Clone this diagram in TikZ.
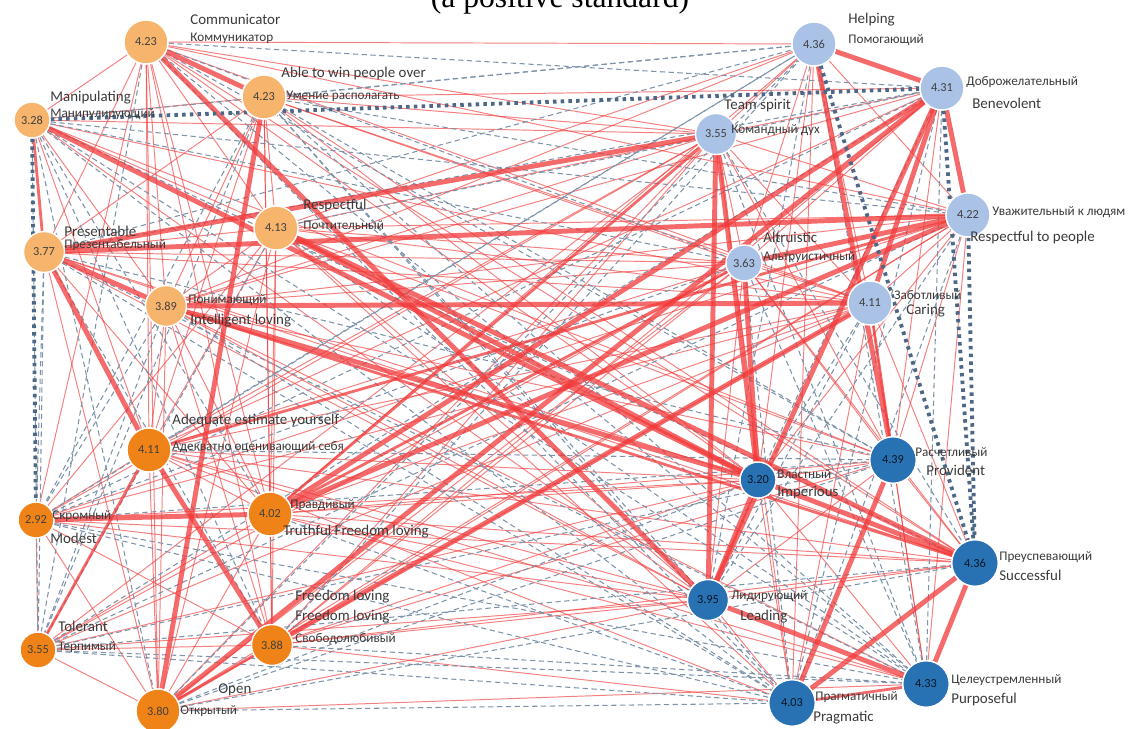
\documentclass[tikz,border=0pt]{standalone}
\usepackage{fontspec}
\setmainfont{Carlito}
\newfontfamily\titlefont{Liberation Serif}
\usetikzlibrary{backgrounds}
\definecolor{warmpale}{HTML}{F7B46C}
\definecolor{warmdeep}{HTML}{EF8317}
\definecolor{coolpale}{HTML}{A9C2E6}
\definecolor{cooldeep}{HTML}{2872B4}
\definecolor{linkred}{HTML}{F23A3A}
\definecolor{linkgrey}{HTML}{7C93AA}
\definecolor{linkslate}{HTML}{4D6886}
\definecolor{inktext}{HTML}{3A3A3A}
\tikzset{
  % ---- trait circles --------------------------------------------------
  trait/.style={circle, draw=white, line width=0.8pt, inner sep=0pt,
    font=\fontsize{7}{8}\selectfont, text=black!75},
  tsmall/.style={trait, minimum size=7.2mm},
  tmid/.style={trait, minimum size=8.2mm},
  tbig/.style={trait, minimum size=8.8mm},
  thuge/.style={trait, minimum size=9.3mm},
  wpale/.style={fill=warmpale},
  wdeep/.style={fill=warmdeep},
  cpale/.style={fill=coolpale},
  cdeep/.style={fill=cooldeep, text=black!80!cooldeep},
  % ---- labels ---------------------------------------------------------
  tlab/.style={anchor=west, inner sep=0pt, text=inktext,
    font=\fontsize{8.5}{9}\selectfont},
  tlabru/.style={tlab, font=\fontsize{7.5}{8}\selectfont},
  % ---- links ----------------------------------------------------------
  linkthin/.style={draw=linkred, line width=0.55pt, draw opacity=0.65},
  linkmid/.style={draw=linkred, line width=1.6pt, draw opacity=0.75},
  linkthick/.style={draw=linkred, line width=2.8pt, draw opacity=0.75},
  linkweak/.style={draw=linkgrey, line width=0.6pt, dash pattern=on 3pt off 2pt},
  linkneg/.style={draw=linkslate, line width=2.2pt, dash pattern=on 2pt off 2.4pt},
}
\begin{document}
\begin{tikzpicture}[x=0.2mm, y=-0.2mm]
\useasboundingbox (0,0) rectangle (1140,728);

% ---- title (cut at the top) -----------------------------------------
\node[font=\titlefont\fontsize{18}{20}\selectfont, anchor=base, inner sep=0pt]
  (title) at (560,7) {(a positive standard)};

% ---- warm group: light ---------------------------------------------
\node[tbig, wpale]   (comm)  at (146,42)  {4.23};
\node[tbig, wpale]   (win)   at (264,97)  {4.23};
\node[tsmall, wpale] (manip) at (32,120)  {3.28};
\node[tbig, wpale]   (resp)  at (276,228) {4.13};
\node[tmid, wpale]   (pres)  at (44,252)  {3.77};
\node[tmid, wpale]   (intel) at (166,306) {3.89};

% ---- warm group: deep -----------------------------------------------
\node[tbig, wdeep]   (adeq)   at (149,450) {4.11};
\node[tsmall, wdeep] (modest) at (36,520)  {2.92};
\node[tbig, wdeep]   (truth)  at (270,514) {4.02};
\node[tsmall, wdeep] (toler)  at (38,650)  {3.55};
\node[tmid, wdeep]   (free)   at (272,645) {3.88};
\node[tbig, wdeep]   (open)   at (158,711) {3.80};

% ---- cool group: light ----------------------------------------------
\node[tbig, cpale]   (help)   at (814,44)  {4.36};
\node[tbig, cpale]   (benev)  at (942,88)  {4.31};
\node[tmid, cpale]   (team)   at (716,134) {3.55};
\node[tbig, cpale]   (respp)  at (968,215) {4.22};
\node[tsmall, cpale] (altru)  at (744,263) {3.63};
\node[tbig, cpale]   (caring) at (870,303) {4.11};

% ---- cool group: deep -----------------------------------------------
\node[thuge, cdeep]  (provid) at (893,460) {4.39};
\node[tsmall, cdeep] (imper)  at (758,480) {3.20};
\node[thuge, cdeep]  (succ)   at (975,563) {4.36};
\node[tmid, cdeep]   (lead)   at (708,600) {3.95};
\node[thuge, cdeep]  (purp)   at (926,684) {4.33};
\node[thuge, cdeep]  (prag)   at (792,703) {4.03};

% ---- labels ---------------------------------------------------------
\node[tlab]   (comm-en)   at (190,19)  {Communicator};
\node[tlabru] (comm-ru)   at (190,38)  {Коммуникатор};
\node[tlab]   (win-en)    at (281,74)  {Able to win people over};
\node[tlabru] (win-ru)    at (286,96)  {Умение располагать};
\node[tlab]   (manip-en)  at (50,98)   {Manipulating};
\node[tlabru] (manip-ru)  at (50,114)  {Манипулирующий};
\node[tlab]   (resp-en)   at (303,206) {Respectful};
\node[tlabru] (resp-ru)   at (303,225) {Почтительный};
\node[tlab]   (pres-en)   at (64,231)  {Presentable};
\node[tlabru] (pres-ru)   at (64,245)  {Презентабельный};
\node[tlabru] (intel-ru)  at (188,300) {Понимающий};
\node[tlab]   (intel-en)  at (190,321) {Intelligent loving};
\node[tlab]   (adeq-en)   at (172,421) {Adequate estimate yourself};
\node[tlabru] (adeq-ru)   at (172,447) {Адекватно оценивающий себя};
\node[tlabru] (modest-ru) at (52,516)  {Скромный};
\node[tlab]   (modest-en) at (50,538)  {Modest};
\node[tlabru] (truth-ru)  at (290,505) {Правдивый};
\node[tlab]   (truth-en)  at (283,532) {Truthful Freedom loving};
\node[tlab]   (toler-en)  at (58,626)  {Tolerant};
\node[tlabru] (toler-ru)  at (58,647)  {Терпимый};
\node[tlab]   (free-en)   at (295,597) {Freedom loving};
\node[tlab]   (free-en2)  at (295,617) {Freedom loving};
\node[tlabru] (free-ru)   at (295,639) {Свободолюбивый};
\node[tlab]   (open-en)   at (218,690) {Open};
\node[tlabru] (open-ru)   at (180,711) {Открытый};
\node[tlab]   (help-en)   at (848,20)  {Helping};
\node[tlabru] (help-ru)   at (848,40)  {Помогающий};
\node[tlabru] (benev-ru)  at (966,82)  {Доброжелательный};
\node[tlab]   (benev-en)  at (972,103) {Benevolent};
\node[tlab]   (team-en)   at (724,106) {Team spirit};
\node[tlabru] (team-ru)   at (731,130) {Командный дух};
\node[tlabru] (respp-ru)  at (992,212) {Уважительный к людям};
\node[tlab]   (respp-en)  at (970,238) {Respectful to people};
\node[tlab]   (altru-en)  at (763,237) {Altruistic};
\node[tlabru] (altru-ru)  at (763,257) {Альтруистичный};
\node[tlabru] (caring-ru) at (894,295) {Заботливый};
\node[tlab]   (caring-en) at (906,311) {Caring};
\node[tlabru] (provid-ru) at (915,452) {Расчетливый};
\node[tlab]   (provid-en) at (926,470) {Provident};
\node[tlabru] (imper-ru)  at (777,474) {Властный};
\node[tlab]   (imper-en)  at (777,493) {Imperious};
\node[tlabru] (succ-ru)   at (999,557) {Преуспевающий};
\node[tlab]   (succ-en)   at (999,575) {Successful};
\node[tlabru] (lead-ru)   at (731,596) {Лидирующий};
\node[tlab]   (lead-en)   at (740,617) {Leading};
\node[tlabru] (purp-ru)   at (951,680) {Целеустремленный};
\node[tlab]   (purp-en)   at (951,700) {Purposeful};
\node[tlabru] (prag-ru)   at (815,697) {Прагматичный};
\node[tlab]   (prag-en)   at (813,718) {Pragmatic};

% ---- links ----------------------------------------------------------
\begin{scope}[on background layer]
\foreach \a/\b in {comm/manip, comm/resp, comm/pres, comm/intel, comm/adeq,
    comm/truth, comm/free, comm/open, comm/modest,
    win/manip, win/resp, win/pres, win/intel, win/adeq, win/truth, win/free,
    manip/intel, manip/adeq, manip/resp,
    resp/pres, resp/intel, resp/adeq, resp/truth, resp/free, resp/open, resp/modest,
    pres/truth, pres/open, intel/adeq, intel/truth, intel/free, intel/open,
    adeq/truth, adeq/modest, adeq/open, modest/toler, modest/open, modest/free,
    truth/free, truth/open, truth/toler, toler/open, toler/free,
    help/team, help/altru, help/caring, help/respp, help/imper, help/prag,
    benev/team, benev/altru, benev/provid,
    team/altru, team/caring, team/respp, team/provid, team/prag,
    respp/caring, respp/provid, respp/purp, respp/imper,
    altru/caring, altru/lead, altru/provid, altru/succ,
    caring/succ, caring/purp, caring/prag,
    provid/imper, provid/succ, provid/purp, provid/lead,
    imper/prag, imper/purp, succ/lead, lead/prag,
    comm/help, comm/team, comm/respp, comm/imper, comm/succ, comm/caring,
    win/benev, win/team, win/altru, win/caring, win/imper, win/succ,
    manip/team, manip/caring, manip/lead, manip/provid,
    resp/help, resp/team, resp/altru, resp/caring, resp/respp, resp/provid,
    resp/lead, resp/prag,
    pres/altru, pres/caring, pres/imper, pres/succ, pres/lead,
    intel/help, intel/benev, intel/team, intel/altru, intel/respp,
    intel/provid, intel/lead, intel/purp,
    adeq/benev, adeq/team, adeq/altru, adeq/caring, adeq/imper, adeq/succ,
    adeq/lead, adeq/prag, adeq/purp,
    modest/team, modest/caring, modest/imper, modest/lead, modest/succ, modest/respp,
    truth/help, truth/provid, truth/imper, truth/succ, truth/lead, truth/purp,
    truth/caring,
    toler/team, toler/caring, toler/altru, toler/lead, toler/imper,
    free/benev, free/team, free/altru, free/respp, free/provid, free/imper,
    free/succ, free/lead, free/prag,
    open/team, open/respp, open/caring, open/altru, open/lead, open/purp}
  \draw[linkthin] (\a) -- (\b);

\foreach \a/\b in {comm/benev, win/help, win/respp, win/provid, win/prag,
    comm/altru, comm/provid, comm/prag, comm/purp,
    manip/toler, manip/succ, manip/respp, manip/help, manip/altru, manip/prag,
    pres/toler, pres/modest, pres/prag, pres/provid, pres/help,
    intel/toler, intel/prag, intel/modest, adeq/provid, adeq/help,
    modest/prag, modest/purp, modest/provid, toler/prag, toler/purp, toler/succ,
    open/prag, open/succ, open/provid, open/imper, free/purp, free/help,
    resp/purp, resp/toler, truth/prag, win/lead, win/purp,
    team/succ, team/purp, altru/prag, altru/purp, caring/imper, caring/lead,
    benev/imper, benev/prag, benev/purp, respp/lead, respp/prag, help/lead,
    manip/purp, pres/benev, pres/purp, modest/altru, modest/benev, modest/help,
    toler/respp, toler/provid, toler/benev, open/help, resp/benev, help/purp,
    win/toler, win/modest, comm/toler, manip/free, manip/truth, manip/open,
    pres/free}
  \draw[linkweak] (\a) -- (\b);

\foreach \a/\b in {intel/succ, caring/provid, prag/purp, adeq/respp,
    toler/adeq, free/open, truth/team, truth/altru, manip/pres}
  \draw[linkmid] (\a) -- (\b);

\foreach \a/\b in {comm/win, comm/lead, manip/imper, pres/intel, pres/adeq,
    pres/respp, intel/caring, intel/imper, win/open, resp/succ, resp/imper,
    adeq/free, modest/truth, truth/benev, truth/respp, open/benev, free/caring,
    team/pres, team/lead, team/imper, altru/imper, help/benev, help/provid,
    benev/respp, benev/caring, benev/lead, respp/altru, imper/succ,
    lead/purp, prag/provid, prag/succ, purp/succ, lead/imper}
  \draw[linkthick] (\a) -- (\b);

\foreach \a/\b in {manip/benev, manip/modest, help/succ, benev/succ, respp/succ}
  \draw[linkneg] (\a) -- (\b);
\end{scope}

\end{tikzpicture}
\end{document}
